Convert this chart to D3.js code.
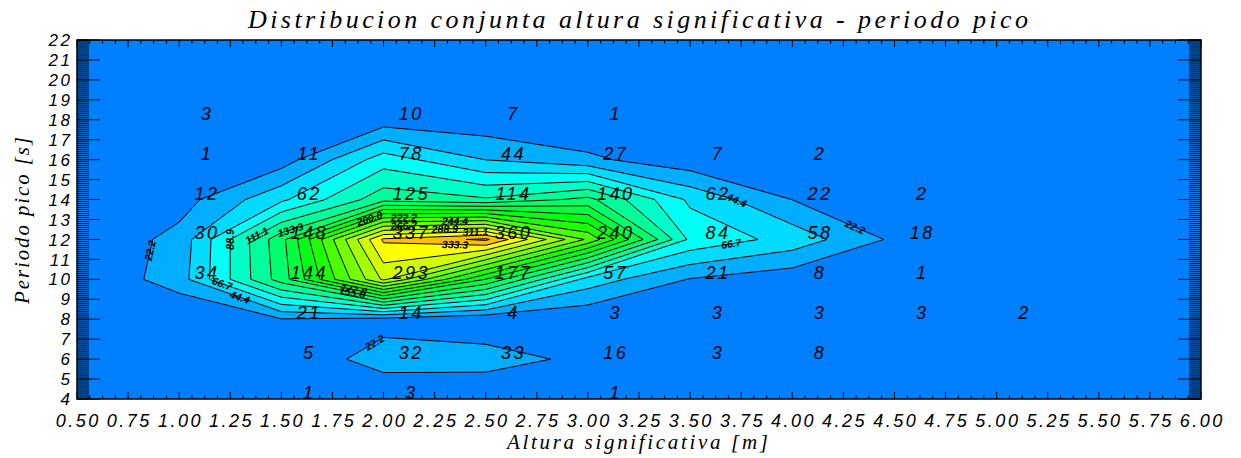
<!DOCTYPE html>
<html>
<head>
<meta charset="utf-8">
<script src="https://cdn.jsdelivr.net/npm/d3@7"></script>
<style>
  body { margin: 0; background: #fff; }
  text { fill: #000; }
  .tick-label { font: italic 18px 'Liberation Sans', Arial, sans-serif; letter-spacing: 2.5px; }
  .ytick { font-size: 17px; }
  .count { font: italic 18px 'Liberation Sans', Arial, sans-serif; letter-spacing: 2.5px; }
  .clabel { font: italic bold 10.5px 'Liberation Sans', Arial, sans-serif; }
  .title { font: italic 26px 'Liberation Serif', 'DejaVu Serif', serif; }
  .axis-title { font: italic 21px 'Liberation Serif', 'DejaVu Serif', serif; }
</style>
</head>
<body>
<svg width="1241" height="458"></svg>
<script>
// nodes of the histogram grid
const heights = [0.5, 1.0, 1.5, 2.0, 2.5, 3.0, 3.5, 4.0, 4.5, 5.0, 5.5, 6.0]
const periods = [4, 6, 8, 10, 12, 14, 16, 18, 20, 22]

// counts, one row per period (from 4 s up), one column per height
const counts = [
  [0, 0, 1, 3, 0, 1, 0, 0, 0, 0, 0, 0],
  [0, 0, 5, 32, 33, 16, 3, 8, 0, 0, 0, 0],
  [0, 0, 21, 14, 4, 3, 3, 3, 3, 2, 0, 0],
  [0, 34, 144, 293, 177, 57, 21, 8, 1, 0, 0, 0],
  [0, 30, 148, 337, 360, 240, 84, 58, 18, 0, 0, 0],
  [0, 12, 62, 125, 114, 140, 62, 22, 2, 0, 0, 0],
  [0, 1, 11, 78, 44, 27, 7, 2, 0, 0, 0, 0],
  [0, 3, 0, 10, 7, 1, 0, 0, 0, 0, 0, 0],
  [0, 0, 0, 0, 0, 0, 0, 0, 0, 0, 0, 0],
  [0, 0, 0, 0, 0, 0, 0, 0, 0, 0, 0, 0],
]

// contour levels 400/18 * k
const levels = d3.range(1, 17).map(k => +(k * 400 / 18).toFixed(1))

// where the contour labels go (level, height, period) - snapped onto the line
const labelHints = [
  [22.2, 0.88, 11.4], [22.2, 4.3, 12.45], [22.2, 1.95, 6.95],
  [44.4, 1.3, 9.2], [44.4, 3.7, 13.3],
  [66.7, 1.2, 9.5], [66.7, 3.7, 11.85],
  [88.9, 1.2, 12.2], [111.1, 1.38, 12.2], [133.3, 1.55, 12.3],
  [155.6, 1.85, 9.5], [177.8, 1.85, 9.3],
  [200.0, 1.95, 12.5], [222.2, 2.1, 12.75], [244.4, 2.35, 12.65],
  [266.7, 2.1, 12.4], [288.9, 2.3, 12.35], [311.1, 2.45, 12.15], [333.3, 2.35, 11.75],
]

const xTicks = d3.range(0.5, 6.0001, 0.25)
const yTicks = d3.range(4, 22.001, 1)

const svg = d3.select('svg')
const mLeft = 77, mRight = 1201, mTop = 40, mBottom = 399

const x = d3.scaleLinear().domain([0.5, 6]).range([mLeft, mRight])
const y = d3.scaleLinear().domain([4, 22]).range([mBottom, mTop])

const color = k => {
  const h = k <= 14 ? 210 - k * 150 / 14 : 60 - (k - 14) * 15
  return d3.hsl(h, 1, 0.5).formatHex()
}

svg.append('clipPath').attr('id', 'plot')
  .append('rect').attr('x', mLeft).attr('y', mTop)
  .attr('width', mRight - mLeft).attr('height', mBottom - mTop)

const plot = svg.append('g').attr('clip-path', 'url(#plot)')

plot.append('rect')
  .attr('x', mLeft).attr('y', mTop)
  .attr('width', mRight - mLeft).attr('height', mBottom - mTop)
  .attr('fill', color(0))

// grid index coordinates -> data
const nx = heights.length, ny = periods.length
const gx = d3.scaleLinear().domain([0.5, nx - 0.5]).range([heights[0], heights[nx - 1]])
const gy = d3.scaleLinear().domain([0.5, ny - 0.5]).range([periods[0], periods[ny - 1]])
const toPx = p => [x(gx(p[0])), y(gy(p[1]))]

const values = counts.flat()
const contours = d3.contours().size([nx, ny]).thresholds(levels)(values)

const proj = d3.geoTransform({
  point(a, b) { const p = toPx([a, b]); this.stream.point(p[0], p[1]) }
})
const path = d3.geoPath(proj)

plot.selectAll('path.band')
  .data(contours)
  .join('path')
  .attr('class', 'band')
  .attr('d', path)
  .attr('fill', (d, i) => color(i + 1))
  .attr('stroke', '#000')
  .attr('stroke-width', 1)
  .attr('stroke-linejoin', 'round')

// contour labels
labelHints.forEach(([lev, hx, hy]) => {
  const c = contours.find(c => Math.abs(c.value - lev) < 0.06)
  if (!c) return
  const tx = x(hx), ty = y(hy)
  let best = null
  c.coordinates.forEach(poly => poly.forEach(ring => {
    const pts = ring.map(toPx)
    for (let i = 0; i < pts.length - 1; i++) {
      const [x1, y1] = pts[i], [x2, y2] = pts[i + 1]
      const dx = x2 - x1, dy = y2 - y1
      const len2 = dx * dx + dy * dy || 1
      const t = Math.max(0, Math.min(1, ((tx - x1) * dx + (ty - y1) * dy) / len2))
      const px = x1 + t * dx, py = y1 + t * dy
      const d = (px - tx) ** 2 + (py - ty) ** 2
      if (!best || d < best.d) best = { d, px, py, ang: Math.atan2(dy, dx) * 180 / Math.PI }
    }
  }))
  if (!best) return
  let ang = best.ang
  if (ang > 90) ang -= 180
  if (ang < -90) ang += 180
  plot.append('text')
    .attr('class', 'clabel')
    .attr('transform', `translate(${best.px},${best.py}) rotate(${ang})`)
    .attr('text-anchor', 'middle')
    .attr('dy', '0.35em')
    .text(lev.toFixed(1))
})

// counts written at every non-empty node
const cells = []
counts.forEach((row, j) => row.forEach((v, i) => {
  if (v > 0) cells.push({ h: heights[i], p: periods[j], v })
}))

svg.append('g').selectAll('text')
  .data(cells)
  .join('text')
  .attr('class', 'count')
  .attr('x', d => x(d.h + 0.13) + 1.25)
  .attr('y', d => y(d.p))
  .attr('text-anchor', 'middle')
  .text(d => d.v)

// axes: ticks drawn inward
const ax = svg.append('g').attr('stroke', '#000')
const xMinor = d3.range(0.5, 6.0001, 0.0625)
xMinor.forEach(v => {
  const len = Math.abs(v * 4 - Math.round(v * 4)) < 1e-6 ? 7 : 4
  ax.append('line').attr('x1', x(v)).attr('x2', x(v)).attr('y1', mBottom).attr('y2', mBottom - len)
  ax.append('line').attr('x1', x(v)).attr('x2', x(v)).attr('y1', mTop).attr('y2', mTop + len)
})
const yMinor = d3.range(4, 22.0001, 0.1)
yMinor.forEach(v => {
  ax.append('line').attr('x1', mLeft).attr('x2', mLeft + 12).attr('y1', y(v)).attr('y2', y(v))
  ax.append('line').attr('x1', mRight).attr('x2', mRight - 12).attr('y1', y(v)).attr('y2', y(v))
})
yTicks.forEach(v => {
  ax.append('line').attr('x1', mLeft).attr('x2', mLeft + 23).attr('y1', y(v)).attr('y2', y(v))
  ax.append('line').attr('x1', mRight).attr('x2', mRight - 23).attr('y1', y(v)).attr('y2', y(v))
})

svg.append('rect')
  .attr('x', mLeft).attr('y', mTop)
  .attr('width', mRight - mLeft).attr('height', mBottom - mTop)
  .attr('fill', 'none').attr('stroke', '#000').attr('stroke-width', 1.5)

svg.append('g').selectAll('text')
  .data(xTicks)
  .join('text')
  .attr('class', 'tick-label')
  .attr('x', d => x(d) + 1.25)
  .attr('y', 427)
  .attr('text-anchor', 'middle')
  .text(d3.format('.2f'))

svg.append('g').selectAll('text')
  .data(yTicks)
  .join('text')
  .attr('class', 'tick-label ytick')
  .attr('x', 72.5)
  .attr('y', d => y(d))
  .attr('dy', '0.36em')
  .attr('text-anchor', 'end')
  .text(d => d)

svg.append('text')
  .attr('class', 'title')
  .attr('x', 248)
  .attr('y', 28)
  .attr('textLength', 780)
  .attr('lengthAdjust', 'spacing')
  .text('Distribucion conjunta altura significativa - periodo pico')

svg.append('text')
  .attr('class', 'axis-title')
  .attr('x', 507)
  .attr('y', 449)
  .attr('textLength', 261)
  .attr('lengthAdjust', 'spacing')
  .text('Altura significativa [m]')

svg.append('text')
  .attr('class', 'axis-title')
  .attr('transform', 'translate(29,304) rotate(-90)')
  .attr('textLength', 167)
  .attr('lengthAdjust', 'spacing')
  .text('Periodo pico [s]')
</script>
</body>
</html>
